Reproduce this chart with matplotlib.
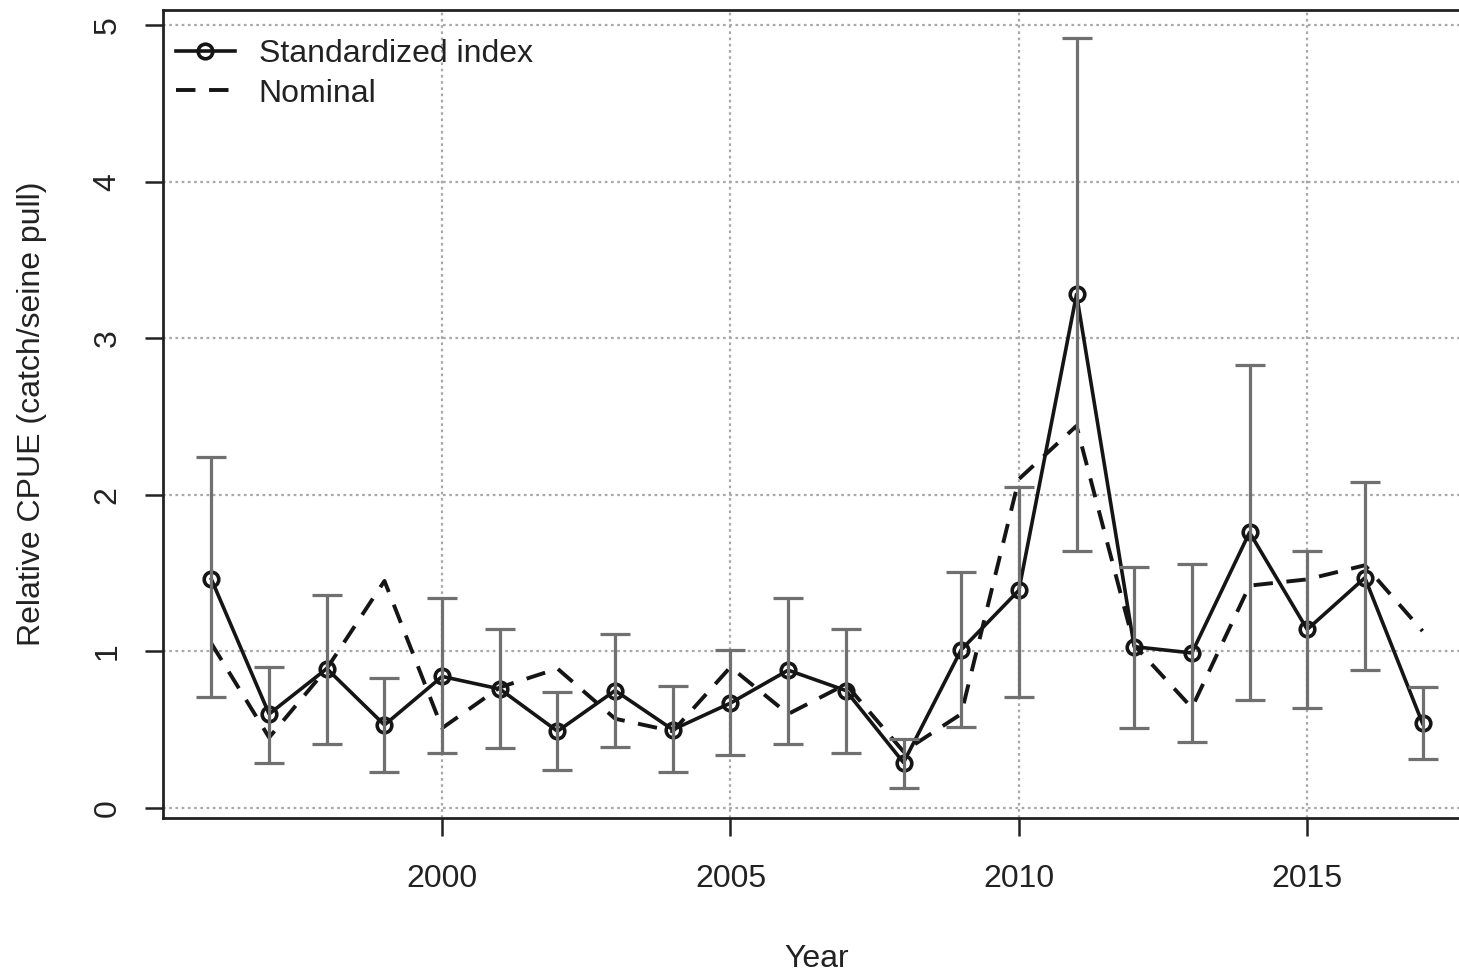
import numpy as np
import matplotlib
matplotlib.use("Agg")
from matplotlib import pyplot as plt

plt.rcParams['font.family'] = ['Liberation Sans', 'DejaVu Sans']

# index series by year
anos = np.arange(1996, 2018)
padronizado = [1.46, 0.60, 0.89, 0.53, 0.84, 0.76, 0.49, 0.75, 0.50, 0.67, 0.88,
               0.75, 0.29, 1.01, 1.39, 3.28, 1.03, 0.99, 1.76, 1.14, 1.47, 0.54]
ic_sup = [2.24, 0.90, 1.36, 0.83, 1.34, 1.14, 0.74, 1.11, 0.78, 1.01, 1.34,
          1.14, 0.44, 1.51, 2.05, 4.92, 1.54, 1.56, 2.83, 1.64, 2.08, 0.77]
ic_inf = [0.71, 0.29, 0.41, 0.23, 0.35, 0.38, 0.24, 0.39, 0.23, 0.34, 0.41,
          0.35, 0.13, 0.52, 0.71, 1.64, 0.51, 0.42, 0.69, 0.64, 0.88, 0.31]
nominal = [1.05, 0.45, 0.89, 1.45, 0.51, 0.77, 0.89, 0.57, 0.49, 0.90, 0.60,
           0.79, 0.36, 0.60, 2.10, 2.44, 1.04, 0.64, 1.42, 1.46, 1.55, 1.13]

xticks = [2000, 2005, 2010, 2015]
yticks = [0, 1, 2, 3, 4, 5]

fig = plt.figure(figsize=(14.59, 9.71), dpi=100)
ax = fig.add_axes([163/1459, 1 - 818/971, (1471 - 163)/1459, (818 - 10)/971])

ax.set_xlim(1995.16, 2017.84)
ax.set_ylim(-0.064, 5.096)

# dotted grid like R's grid()
for xv in xticks:
    ax.axvline(xv, color='#a8a8a8', lw=1.6, ls=(0, (1.2, 1.6)), zorder=0)
for yv in yticks:
    ax.axhline(yv, color='#a8a8a8', lw=1.6, ls=(0, (1.2, 1.6)), zorder=0)

ax.plot(anos, nominal, color='#151515', lw=2.8, ls=(0, (5, 3.5)), label='Nominal', zorder=2)
ax.plot(anos, padronizado, color='#151515', lw=2.6, marker='o', ms=10.5,
        mfc='none', mec='#151515', mew=2.6, label='Standardized index', zorder=3)

erro = [np.array(padronizado) - np.array(ic_inf), np.array(ic_sup) - np.array(padronizado)]
ax.errorbar(anos, padronizado, yerr=erro, fmt='none', ecolor='#707070',
            elinewidth=2.3, capsize=11, capthick=2.3, zorder=4)

ax.set_xticks(xticks)
ax.set_yticks(yticks)
ax.set_yticklabels([str(v) for v in yticks], rotation=90, va='center')
ax.tick_params(axis='both', labelsize=23, length=13, width=1.8, color='#222222',
               labelcolor='#222222')
ax.tick_params(axis='x', pad=20)
ax.tick_params(axis='y', pad=16)

for lado in ['left', 'bottom', 'top', 'right']:
    ax.spines[lado].set_linewidth(2.0)
    ax.spines[lado].set_color('#222222')

ax.set_xlabel('Year', fontsize=23, color='#222222', labelpad=36)
ax.set_ylabel('Relative CPUE (catch/seine pull)', fontsize=23, color='#222222', labelpad=33)

h, l = ax.get_legend_handles_labels()
ax.legend([h[1], h[0]], [l[1], l[0]], loc='upper left', frameon=False, fontsize=23,
          handlelength=1.85, handletextpad=0.75, labelspacing=0.3,
          borderaxespad=0.0, bbox_to_anchor=(0.0, 0.98), labelcolor='#222222')

fig.savefig('out.png', dpi=100)
